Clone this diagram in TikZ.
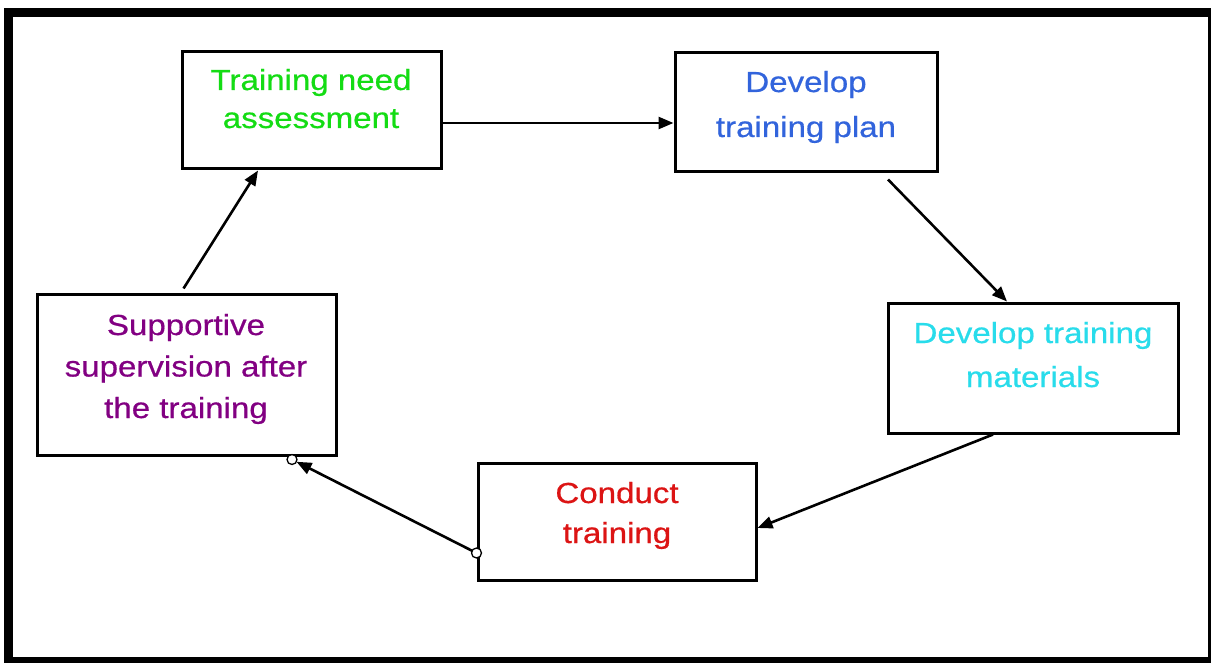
\documentclass[tikz,border=0pt]{standalone}
\usepackage{fontspec}
\usetikzlibrary{arrows.meta}
\newfontfamily\dfont[FakeStretch=1.14,FakeBold=0.6]{Liberation Sans}
\definecolor{tgreen}{RGB}{20,220,20}
\definecolor{tblue}{RGB}{50,100,220}
\definecolor{tcyan}{RGB}{40,220,235}
\definecolor{tred}{RGB}{220,20,20}
\definecolor{tpurple}{RGB}{130,0,130}
\begin{document}
\begin{tikzpicture}[x=1pt,y=-1pt,
  stagebox/.style={draw=black,line width=3pt,rectangle,inner sep=0pt},
  stagetext/.style={inner sep=0pt,align=center,anchor=base,font=\dfont\fontsize{29}{#1}\selectfont},
  flow/.style={draw=black,line width=2.6pt,-{Triangle[length=15pt,width=12pt]}},
  joint/.style={circle,draw=black,fill=white,line width=1.3pt,inner sep=0pt,minimum size=10pt}]
\useasboundingbox (0,0) rectangle (1212,663);
\fill[black] (4,8) rectangle (1211,663);
\fill[white] (13,17) rectangle (1208,657);
% boxes
\node[stagebox,minimum width=259pt,minimum height=117pt] (n1) at (311.5,110.5) {};
\node[stagebox,minimum width=262pt,minimum height=119pt] (n2) at (806,112.5) {};
\node[stagebox,minimum width=290pt,minimum height=130pt] (n3) at (1033,368) {};
\node[stagebox,minimum width=278pt,minimum height=117pt] (n4) at (617,521.5) {};
\node[stagebox,minimum width=299pt,minimum height=161pt] (n5) at (186.5,374.5) {};
% texts (base = baseline of last line)
\node[stagetext=38pt,text=tgreen] (t1) at (311,128) {Training need\\assessment};
\node[stagetext=45pt,text=tblue] (t2) at (806,137) {Develop\\training plan};
\node[stagetext=44pt,text=tcyan] (t3) at (1033,387) {Develop training\\materials};
\node[stagetext=40pt,text=tred] (t4) at (617,543) {Conduct\\training};
\node[stagetext=41.5pt,text=tpurple] (t5) at (186,418) {Supportive\\supervision after\\the training};
% connectors
\draw[flow] ([yshift=-12.5pt]n1.east) -- ([yshift=-10.5pt]n2.west);
\draw[flow] ([xshift=82pt,yshift=-6pt]n2.south) -- ([xshift=-26pt]n3.north);
\draw[flow] ([xshift=-40pt]n3.south) -- ([yshift=-6.5pt]n4.east);
\coordinate (c4) at ([yshift=-31.5pt]n4.west);
\coordinate (c5) at ([xshift=105.5pt,yshift=-3pt]n5.south);
\draw[flow,shorten >=5pt] (c4) -- (c5);
\node[joint] (j4) at (c4) {};
\node[joint] (j5) at (c5) {};
\draw[flow] ([xshift=-3pt,yshift=4pt]n5.north) -- ([xshift=-53.5pt]n1.south);
\end{tikzpicture}
\end{document}
